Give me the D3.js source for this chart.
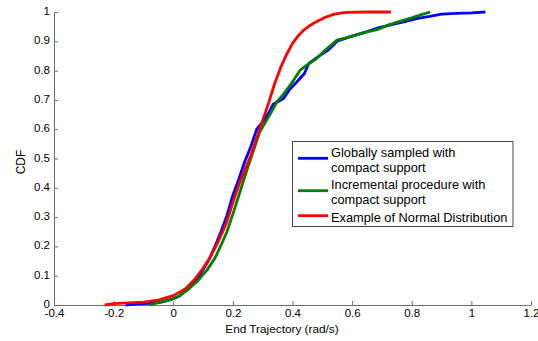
<!DOCTYPE html>
<html>
<head>
<meta charset="utf-8">
<script src="https://cdn.jsdelivr.net/npm/d3@7"></script>
<style>
  body { margin: 0; background: #fff; }
  svg { font-family: Arial, "Liberation Sans", sans-serif; display: block; }
</style>
</head>
<body>
<div class="chart"></div>
<script>
// tick values for both axes
const xTicks = [-0.4, -0.2, 0, 0.2, 0.4, 0.6, 0.8, 1, 1.2];
const yTicks = [0, 0.1, 0.2, 0.3, 0.4, 0.5, 0.6, 0.7, 0.8, 0.9, 1];

const seriesNames = [
    ['Globally sampled with', 'compact support'],
    ['Incremental procedure with', 'compact support'],
    ['Example of Normal Distribution']
];

// CDF points, [x, F(x)]
const globalCdf = [
    [-0.16, 0], [-0.12, 0.004], [-0.08, 0.006], [-0.04, 0.01], [-0.01, 0.018],
    [0.02, 0.03], [0.05, 0.055], [0.08, 0.09], [0.1, 0.12], [0.12, 0.155],
    [0.14, 0.2], [0.16, 0.25], [0.18, 0.305], [0.2, 0.375], [0.22, 0.43],
    [0.24, 0.49], [0.26, 0.54], [0.28, 0.6], [0.3, 0.625], [0.32, 0.655],
    [0.335, 0.685], [0.37, 0.705], [0.39, 0.735], [0.415, 0.762], [0.44, 0.79],
    [0.455, 0.825], [0.49, 0.85], [0.52, 0.87], [0.55, 0.9], [0.594, 0.916],
    [0.65, 0.933], [0.69, 0.947], [0.73, 0.956], [0.78, 0.968], [0.82, 0.978],
    [0.86, 0.985], [0.9, 0.993], [0.95, 0.995], [1.0, 0.997], [1.047, 1.0]
];

const incrementalCdf = [
    [-0.08, 0], [-0.05, 0.008], [-0.02, 0.015], [0.01, 0.025], [0.046, 0.05],
    [0.08, 0.08], [0.113, 0.119], [0.14, 0.16], [0.163, 0.21], [0.18, 0.25],
    [0.2, 0.31], [0.225, 0.39], [0.25, 0.47], [0.27, 0.53], [0.29, 0.59],
    [0.31, 0.625], [0.33, 0.66], [0.348, 0.694], [0.37, 0.72], [0.393, 0.751],
    [0.426, 0.802], [0.45, 0.82], [0.482, 0.842], [0.51, 0.87], [0.549, 0.904],
    [0.58, 0.912], [0.616, 0.922], [0.65, 0.932], [0.684, 0.94], [0.72, 0.955],
    [0.76, 0.968], [0.8, 0.98], [0.83, 0.99], [0.862, 1.0]
];

const normalCdf = [
    [-0.23, 0], [-0.2, 0.005], [-0.15, 0.007], [-0.1, 0.01], [-0.05, 0.017],
    [0, 0.032], [0.04, 0.055], [0.07, 0.085], [0.1, 0.125], [0.125, 0.165],
    [0.15, 0.215], [0.17, 0.26], [0.18, 0.285], [0.2, 0.35], [0.22, 0.41],
    [0.24, 0.46], [0.26, 0.51], [0.28, 0.57], [0.3, 0.63], [0.32, 0.69],
    [0.34, 0.755], [0.36, 0.81], [0.38, 0.855], [0.4, 0.893], [0.42, 0.92],
    [0.44, 0.94], [0.46, 0.955], [0.48, 0.967], [0.51, 0.982], [0.538, 0.992],
    [0.56, 0.996], [0.583, 0.999], [0.65, 1.0], [0.73, 1.0]
];

const seriesColors = ['#0000ff', '#008000', '#ff0000'];

const W = 538, H = 341;
const svg = d3.select('.chart').append('svg')
    .attr('width', W)
    .attr('height', H);

const xScale = d3.scaleLinear().domain([-0.4, 1.2]).range([54, 531]);
const yScale = d3.scaleLinear().domain([0, 1]).range([305, 12]);

const axisColor = '#6e6e6e';

// x axis, ticks pointing inwards like matlab
const xAxis = d3.axisBottom(xScale)
    .tickValues(xTicks)
    .tickSizeInner(-4)
    .tickSizeOuter(0)
    .tickPadding(4)
    .tickFormat(d => String(d));

const yAxis = d3.axisLeft(yScale)
    .tickValues(yTicks)
    .tickSizeInner(-4)
    .tickSizeOuter(0)
    .tickPadding(4)
    .tickFormat(d => String(d));

const gx = svg.append('g')
    .attr('class', 'axis x-axis')
    .attr('transform', `translate(0,${yScale(0)})`)
    .call(xAxis);

const gy = svg.append('g')
    .attr('class', 'axis y-axis')
    .attr('transform', `translate(${xScale(-0.4)},0)`)
    .call(yAxis);

[gx, gy].forEach(g => {
    g.select('.domain').attr('stroke', axisColor);
    g.selectAll('.tick line').attr('stroke', axisColor);
    g.selectAll('.tick text')
        .attr('fill', '#000')
        .style('font-size', '11.5px')
        .style('font-family', 'Arial, "Liberation Sans", sans-serif');
});
gx.selectAll('.tick text').attr('dy', '0.68em');
gy.selectAll('.tick text').attr('dy', '0.22em');

// the curves
const line = d3.line()
    .x(d => xScale(d[0]))
    .y(d => yScale(d[1]));

const allSeries = [globalCdf, incrementalCdf, normalCdf];
svg.selectAll('.cdf')
    .data(allSeries)
    .enter()
    .append('path')
    .attr('class', 'cdf')
    .attr('d', line)
    .attr('fill', 'none')
    .attr('stroke', (d, i) => seriesColors[i])
    .attr('stroke-width', 2.8)
    .attr('stroke-linejoin', 'round');

// axis labels
svg.append('text')
    .attr('x', 282)
    .attr('y', 333)
    .attr('text-anchor', 'middle')
    .style('font-size', '11.8px')
    .text('End Trajectory (rad/s)');

svg.append('text')
    .attr('transform', 'translate(25,162) rotate(-90)')
    .attr('text-anchor', 'middle')
    .style('font-size', '12px')
    .text('CDF');

// legend
const legend = svg.append('g').attr('class', 'legend');
legend.append('rect')
    .attr('x', 292.5)
    .attr('y', 141.5)
    .attr('width', 220.5)
    .attr('height', 85)
    .attr('fill', '#fff')
    .attr('stroke', '#444')
    .attr('stroke-width', 1);

const legendLineY = [158.3, 190.7, 215.7];
const legendTextY = [156.7, 189.3, 221.7];

seriesNames.forEach((lines, i) => {
    legend.append('line')
        .attr('x1', 298).attr('x2', 328)
        .attr('y1', legendLineY[i]).attr('y2', legendLineY[i])
        .attr('stroke', seriesColors[i])
        .attr('stroke-width', 2.8);
    const t = legend.append('text')
        .attr('x', 331)
        .attr('y', legendTextY[i])
        .style('font-size', '12.8px');
    lines.forEach((s, j) => {
        t.append('tspan')
            .attr('x', 331)
            .attr('dy', j === 0 ? 0 : 15)
            .text(s);
    });
});
</script>
</body>
</html>
